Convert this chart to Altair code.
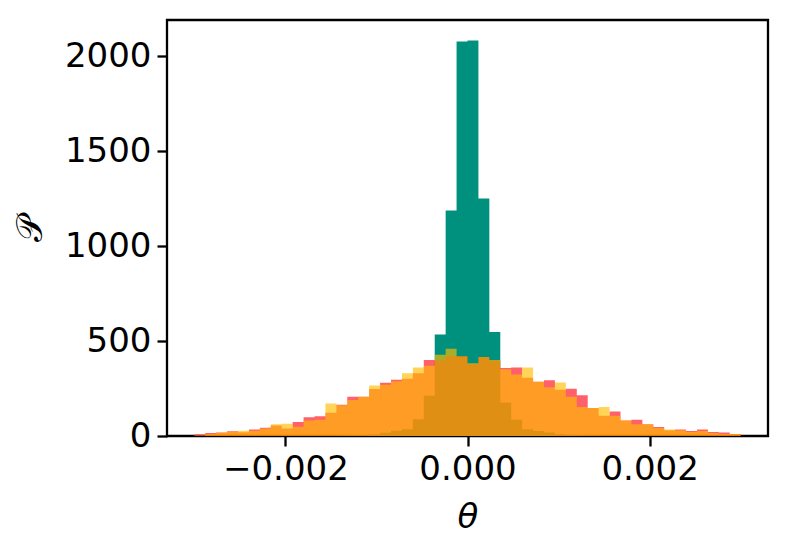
import altair as alt
import numpy as np
import pandas as pd

# 50 bins of width 0.00012 from -0.003 to 0.003
edges = np.round(np.linspace(-0.003, 0.003, 51), 6)

teal = [0, 0, 0, 0, 0, 0, 0, 0, 0, 0,
        0, 0, 0, 1, 2, 3, 8, 17, 28, 35,
        88, 212, 534, 1187, 2077, 2082, 1250, 548, 176, 86,
        35, 26, 18, 9, 4, 2, 1, 0, 0, 0,
        0, 0, 0, 0, 0, 0, 0, 0, 0, 0]

red = [8, 16, 19, 25, 20, 34, 43, 55, 39, 74,
       99, 104, 123, 164, 206, 206, 248, 280, 296, 302,
       331, 400, 398, 420, 420, 378, 416, 396, 358, 361,
       307, 286, 294, 243, 249, 215, 148, 107, 129, 81,
       86, 62, 48, 30, 34, 26, 34, 21, 18, 11]

yellow = [3, 10, 17, 22, 28, 28, 40, 62, 65, 49,
          81, 85, 171, 162, 190, 206, 266, 270, 288, 330,
          361, 370, 428, 459, 420, 383, 416, 400, 352, 324,
          361, 286, 257, 282, 206, 153, 148, 153, 106, 81,
          62, 62, 42, 34, 30, 21, 26, 16, 10, 11]

series = [("teal", teal, "#00917E", 1.0),
          ("red", red, "#FF0A1A", 0.65),
          ("yellow", yellow, "#FFBD00", 0.65)]

xscale = alt.Scale(domain=[-0.0033, 0.0033], nice=False, zero=False)
yscale = alt.Scale(domain=[0, 2190], nice=False)

FONT = "DejaVu Sans"
FS = 34

layers = []
for i, (name, counts, color, op) in enumerate(series):
    df = pd.DataFrame({"theta": edges, "count": list(counts) + [counts[-1]]})
    if i == 0:
        xenc = alt.X("theta:Q", scale=xscale,
                     axis=alt.Axis(values=[-0.002, 0, 0.002], format=".3f",
                                   title="θ", titleFontStyle="italic",
                                   titleFontWeight="normal", titleFont=FONT,
                                   titleFontSize=FS, titleY=81,
                                   titleBaseline="middle"))
        yenc = alt.Y("count:Q", scale=yscale,
                     axis=alt.Axis(values=[0, 500, 1000, 1500, 2000], format="d",
                                   title="𝒫", titleFontWeight="normal",
                                   titleFont=FONT, titleFontSize=36,
                                   titleX=-137, titleY=208, titleAngle=270,
                                   titleAlign="center", titleBaseline="middle"))
    else:
        xenc = alt.X("theta:Q", scale=xscale)
        yenc = alt.Y("count:Q", scale=yscale)
    layers.append(
        alt.Chart(df).mark_area(interpolate="step-after", color=color, opacity=op)
        .encode(x=xenc, y=yenc)
    )

chart = alt.layer(*layers).properties(
    width=601, height=416,
    autosize=alt.AutoSizeParams(type="none"),
    padding={"left": 159, "top": 12, "right": 14, "bottom": 100},
).configure_view(
    stroke="black", strokeWidth=2.3
).configure_axis(
    grid=False, domain=False,
    tickColor="black", tickWidth=2.3, tickSize=10,
    labelFont=FONT, labelFontSize=FS, labelColor="black", labelPadding=6,
    titleColor="black",
)

chart.save("out.html", embed_options={"renderer": "svg", "actions": False})
